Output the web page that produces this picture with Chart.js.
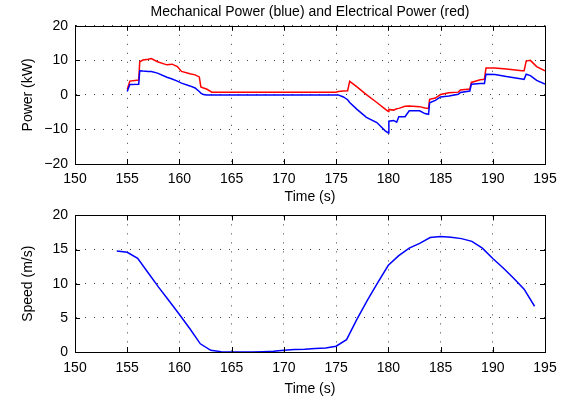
<!DOCTYPE html>
<html>
<head>
<meta charset="utf-8">
<script src="https://cdn.jsdelivr.net/npm/chart.js@4.4.1/dist/chart.umd.min.js"></script>
<style>
    body { margin: 0; background: #fff; }
    #wrap { position: relative; width: 566px; height: 403px; }
    #powerChart { position: absolute; left: 0; top: 0; }
    #speedChart { position: absolute; left: 0; top: 200px; }
</style>
</head>
<body>
<div id="wrap">
    <canvas id="powerChart" width="566" height="208"></canvas>
    <canvas id="speedChart" width="566" height="203"></canvas>
</div>
<script>
// Power data (kW) vs time (s)
const powerTime = [155.0, 155.25, 156.1, 156.2, 156.5, 157.0, 157.3, 157.9, 158.8, 159.3, 159.8, 160.2, 161.0, 161.5, 161.9, 162.05, 162.3, 162.6, 163.1,
    175.0, 175.2, 175.7, 176.1, 176.3, 177.0, 177.9, 178.9, 179.7, 180.0, 180.05, 180.5, 180.8, 181.0, 181.6, 182.0, 183.0, 183.5, 183.85, 183.95,
    184.5, 185.0, 185.8, 186.7, 186.9, 187.8, 187.95, 188.8, 189.2, 189.35, 190.2, 191.3, 192.8, 193.0, 193.2, 193.6, 194.2, 195.0];
const mechPower = [1.0, 3.0, 3.1, 7.0, 6.9, 6.8, 6.8, 6.3, 5.1, 4.6, 4.0, 3.4, 2.6, 2.0, 1.0, 0.5, 0.1, 0.0, 0.0,
    0.0, 0.0, -0.6, -1.4, -2.2, -4.2, -6.5, -8.0, -10.4, -11.0, -7.6, -7.4, -7.9, -6.3, -6.3, -4.6, -4.6, -5.4, -5.6, -2.3,
    -1.6, -0.6, -0.3, 0.2, 0.7, 1.1, 3.1, 3.3, 3.3, 6.0, 5.9, 5.3, 4.6, 4.5, 6.0, 5.6, 4.2, 3.1];
const elecPower = [1.6, 4.0, 4.3, 9.6, 10.1, 10.3, 10.5, 9.6, 8.7, 8.9, 8.2, 6.8, 6.1, 5.8, 5.2, 2.3, 2.0, 1.7, 0.8,
    0.8, 1.0, 1.1, 1.2, 3.9, 2.3, 0.1, -2.2, -4.1, -4.8, -4.2, -4.4, -4.0, -3.9, -3.3, -3.2, -3.4, -3.8, -3.9, -1.3,
    -0.9, 0.1, 0.6, 0.8, 1.4, 1.7, 3.6, 4.4, 4.5, 7.8, 7.8, 7.5, 7.0, 7.0, 9.8, 10.0, 8.2, 7.0];

// Speed data (m/s) vs time (s)
const speedTime = [154, 155, 156, 157, 158, 159, 160, 161, 162, 163, 164, 165, 166, 167, 168, 169, 170, 171, 172, 173, 174,
    175, 176, 177, 178, 179, 180, 181, 182, 183, 184, 185, 186, 187, 188, 189, 190, 191, 192, 193, 194];
const speed = [14.8, 14.6, 13.7, 11.6, 9.5, 7.5, 5.5, 3.4, 1.2, 0.25, 0.05, 0, 0, 0, 0.05, 0.1, 0.25, 0.35, 0.4, 0.5, 0.6,
    0.85, 1.8, 4.8, 7.6, 10.2, 12.7, 14.1, 15.2, 15.9, 16.75, 16.9, 16.8, 16.6, 16.2, 15.2, 13.7, 12.3, 10.8, 9.2, 6.7];

const timeTicks = [150, 155, 160, 165, 170, 175, 180, 185, 190, 195];

const FONT = 'Liberation Sans, Arial, Helvetica, sans-serif';

// box round the plot area plus inward tick marks on all four sides
const boxPlugin = {
    id: 'box',
    afterDraw(chart) {
        const { ctx, chartArea: a, scales } = chart;
        const len = 5;
        ctx.save();
        ctx.strokeStyle = '#000';
        ctx.lineWidth = 1;
        ctx.beginPath();
        scales.x.ticks.forEach(t => {
            const px = Math.round(scales.x.getPixelForValue(t.value)) + 0.5;
            ctx.moveTo(px, a.bottom); ctx.lineTo(px, a.bottom - len);
            ctx.moveTo(px, a.top); ctx.lineTo(px, a.top + len);
        });
        scales.y.ticks.forEach(t => {
            const py = Math.round(scales.y.getPixelForValue(t.value)) + 0.5;
            ctx.moveTo(a.left, py); ctx.lineTo(a.left + len, py);
            ctx.moveTo(a.right, py); ctx.lineTo(a.right - len, py);
        });
        ctx.stroke();
        ctx.strokeRect(Math.round(a.left) + 0.5, Math.round(a.top) + 0.5,
            Math.round(a.right - a.left), Math.round(a.bottom - a.top));
        ctx.restore();
    }
};

function makeOptions(cfg) {
    return {
        responsive: false,
        animation: false,
        devicePixelRatio: 1,
        layout: { padding: { left: 0, right: 21, top: cfg.padTop, bottom: 0 } },
        plugins: {
            legend: { display: false },
            tooltip: { enabled: false },
            title: cfg.title ? {
                display: true,
                text: cfg.title,
                color: '#000',
                fullSize: false,
                font: { family: FONT, size: 14, weight: 'normal' },
                padding: { top: 4, bottom: 5 }
            } : { display: false }
        },
        scales: {
            x: {
                type: 'linear',
                min: 150,
                max: 195,
                afterBuildTicks: s => { s.ticks = timeTicks.map(v => ({ value: v })); },
                afterFit: s => { s.height = cfg.xHeight; },
                ticks: { color: '#000', padding: cfg.xTickPad, font: { family: FONT, size: 14 }, maxRotation: 0 },
                grid: { color: 'rgba(0,0,0,0.75)', lineWidth: 1, drawTicks: false },
                border: { display: true, color: '#000', dash: [1, 8] },
                title: {
                    display: true, text: 'Time (s)', color: '#000',
                    font: { family: FONT, size: 14 },
                    padding: { top: 0, bottom: cfg.xTitlePad }
                }
            },
            y: {
                min: cfg.yMin,
                max: cfg.yMax,
                ticks: {
                    stepSize: cfg.yStep, color: '#000', padding: 7, font: { family: FONT, size: 14 },
                    callback: v => (v < 0 ? '\u2212' + Math.abs(v) : String(v))
                },
                afterFit: s => { s.width = 75; },
                grid: { color: 'rgba(0,0,0,0.75)', lineWidth: 1, drawTicks: false },
                border: { display: true, color: '#000', dash: [1, 8] },
                title: {
                    display: true, text: cfg.yLabel, color: '#000',
                    font: { family: FONT, size: 14 },
                    padding: { top: 20, bottom: 0 }
                }
            }
        },
        elements: { point: { radius: 0 }, line: { tension: 0 } }
    };
}

new Chart(document.getElementById('powerChart'), {
    type: 'line',
    data: {
        datasets: [
            {
                label: 'Mechanical Power',
                data: powerTime.map((t, i) => ({ x: t, y: mechPower[i] })),
                borderColor: '#0000ff',
                borderWidth: 1.5
            },
            {
                label: 'Electrical Power',
                data: powerTime.map((t, i) => ({ x: t, y: elecPower[i] })),
                borderColor: '#ff0000',
                borderWidth: 1.5
            }
        ]
    },
    options: makeOptions({
        title: 'Mechanical Power (blue) and Electrical Power (red)',
        padTop: 0, xHeight: 44, xTickPad: 7, xTitlePad: 2,
        yMin: -20, yMax: 20, yStep: 10, yLabel: 'Power (kW)'
    }),
    plugins: [boxPlugin]
});

new Chart(document.getElementById('speedChart'), {
    type: 'line',
    data: {
        datasets: [{
            label: 'Speed',
            data: speedTime.map((t, i) => ({ x: t, y: speed[i] })),
            borderColor: '#0000ff',
            borderWidth: 1.5
        }]
    },
    options: makeOptions({
        title: null,
        padTop: 15, xHeight: 51, xTickPad: 8, xTitlePad: 5,
        yMin: 0, yMax: 20, yStep: 5, yLabel: 'Speed (m/s)'
    }),
    plugins: [boxPlugin]
});
</script>
</body>
</html>
